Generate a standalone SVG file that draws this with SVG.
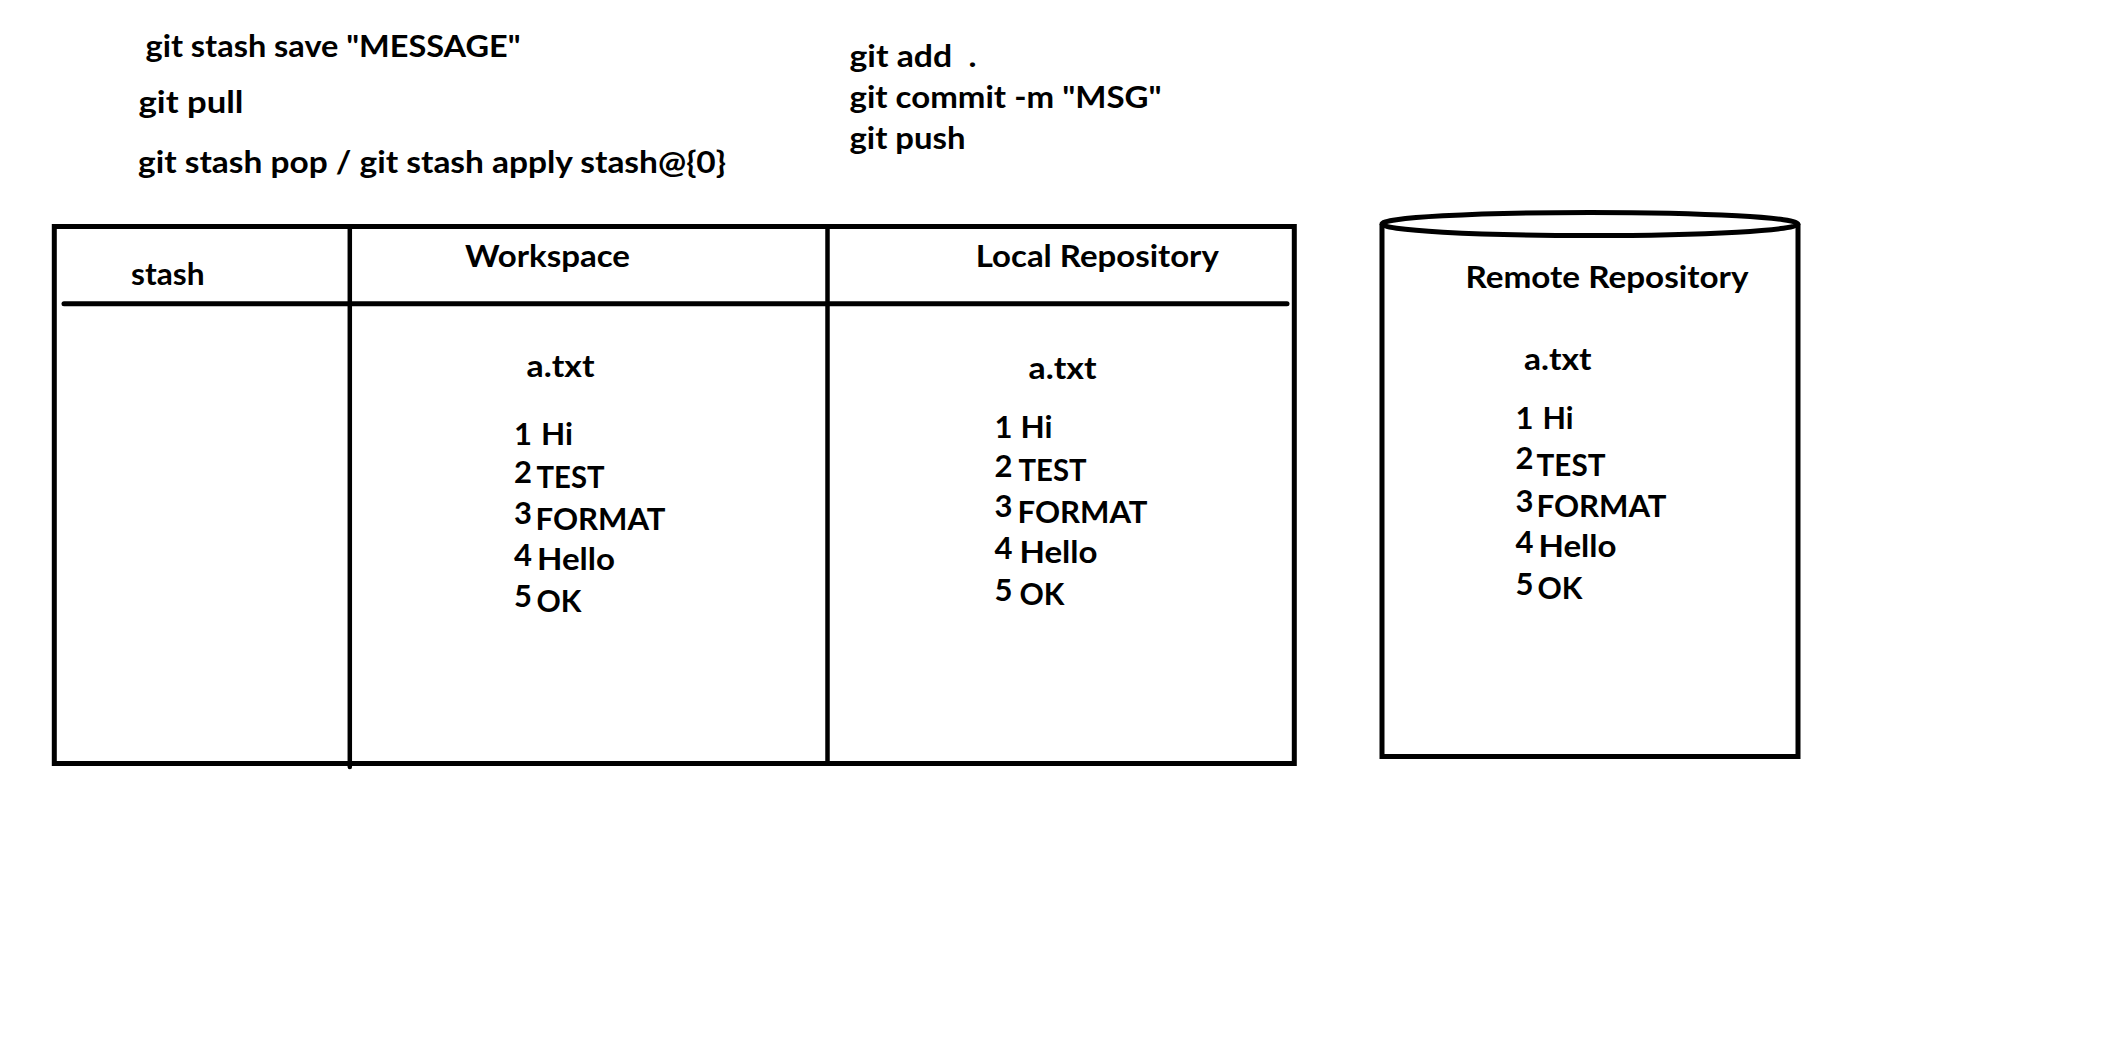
<svg xmlns="http://www.w3.org/2000/svg" width="2120" height="1044" viewBox="0 0 2120 1044">
  <style>
    text { font-family: Lato, "Open Sans", "Liberation Sans", sans-serif; font-weight: 700; fill: #000; white-space: pre; }
    .cmd { font-size: 31px; }
    .hd { font-size: 31px; }
    .ln { font-size: 30px; }
    .num { font-size: 31px; }
    .frame { fill: none; stroke: #000; stroke-width: 5; }
    .rule { fill: none; stroke: #000; stroke-width: 5; stroke-linecap: round; }
    .col { fill: none; stroke: #000; stroke-width: 4.5; stroke-linecap: round; }
  </style>
  <rect width="2120" height="1044" fill="#fff"/>

  <!-- command notes -->
  <g id="stash-commands">
    <text class="cmd" x="145.5" y="57" textLength="375" lengthAdjust="spacingAndGlyphs">git stash save "MESSAGE"</text>
    <text class="cmd" x="138.5" y="113" textLength="105" lengthAdjust="spacingAndGlyphs">git pull</text>
    <text class="cmd" x="138" y="173" textLength="588" lengthAdjust="spacingAndGlyphs">git stash pop / git stash apply stash@{0}</text>
  </g>
  <g id="commit-commands">
    <text class="cmd" x="849.5" y="67" textLength="127" lengthAdjust="spacingAndGlyphs">git add  .</text>
    <text class="cmd" x="849.5" y="108" textLength="312" lengthAdjust="spacingAndGlyphs">git commit -m "MSG"</text>
    <text class="cmd" x="849.5" y="148.5" textLength="116" lengthAdjust="spacingAndGlyphs">git push</text>
  </g>

  <!-- local table: stash | workspace | local repository -->
  <g id="local-table">
    <rect class="frame" x="54.3" y="226.5" width="1240" height="537"/>
    <line class="rule" x1="64" y1="303.7" x2="1287" y2="303.7"/>
    <line class="col" x1="349.8" y1="226.5" x2="349.8" y2="767"/>
    <line class="col" x1="827.5" y1="226.5" x2="827.5" y2="763.5"/>
  </g>

  <g id="stash">
    <text class="hd" x="131" y="285" textLength="73.5" lengthAdjust="spacingAndGlyphs">stash</text>
  </g>

  <g id="workspace">
    <text class="hd" x="465" y="266.7" textLength="165" lengthAdjust="spacingAndGlyphs">Workspace</text>
    <text class="ln" x="526.5" y="376.7" textLength="68" lengthAdjust="spacingAndGlyphs">a.txt</text>
    <text class="num" x="514" y="445">1</text>
    <text class="ln" x="541" y="445" textLength="32" lengthAdjust="spacingAndGlyphs">Hi</text>
    <text class="num" x="514" y="483">2</text>
    <text class="ln" x="536.5" y="487.7" textLength="68" lengthAdjust="spacingAndGlyphs">TEST</text>
    <text class="num" x="514" y="524">3</text>
    <text class="ln" x="535.5" y="530" textLength="130" lengthAdjust="spacingAndGlyphs">FORMAT</text>
    <text class="num" x="514" y="566">4</text>
    <text class="ln" x="537" y="570" textLength="78" lengthAdjust="spacingAndGlyphs">Hello</text>
    <text class="num" x="514" y="607">5</text>
    <text class="ln" x="536.5" y="611.7" textLength="45" lengthAdjust="spacingAndGlyphs">OK</text>
  </g>

  <g id="local-repository">
    <text class="hd" x="975.8" y="267.3" textLength="243" lengthAdjust="spacingAndGlyphs">Local Repository</text>
    <text class="ln" x="1028.5" y="379" textLength="68" lengthAdjust="spacingAndGlyphs">a.txt</text>
    <text class="num" x="994.5" y="438">1</text>
    <text class="ln" x="1020.5" y="438" textLength="32" lengthAdjust="spacingAndGlyphs">Hi</text>
    <text class="num" x="994.5" y="476.7">2</text>
    <text class="ln" x="1018.5" y="480.7" textLength="68" lengthAdjust="spacingAndGlyphs">TEST</text>
    <text class="num" x="994.5" y="516.7">3</text>
    <text class="ln" x="1017.5" y="523.3" textLength="130" lengthAdjust="spacingAndGlyphs">FORMAT</text>
    <text class="num" x="994.5" y="559.3">4</text>
    <text class="ln" x="1019.5" y="563.3" textLength="78" lengthAdjust="spacingAndGlyphs">Hello</text>
    <text class="num" x="994.5" y="600.7">5</text>
    <text class="ln" x="1019.5" y="605" textLength="45" lengthAdjust="spacingAndGlyphs">OK</text>
  </g>

  <!-- remote repository drawn as a cylinder -->
  <g id="remote-repository">
    <path class="frame" d="M1382,224 L1382,756.5 L1798,756.5 L1798,224"/>
    <ellipse class="frame" cx="1590" cy="224" rx="208" ry="11.5"/>
    <text class="hd" x="1465.5" y="288.3" textLength="283" lengthAdjust="spacingAndGlyphs">Remote Repository</text>
    <text class="ln" x="1524" y="370" textLength="67.5" lengthAdjust="spacingAndGlyphs">a.txt</text>
    <text class="num" x="1515.5" y="429.3">1</text>
    <text class="ln" x="1542.5" y="429.3" textLength="31" lengthAdjust="spacingAndGlyphs">Hi</text>
    <text class="num" x="1515.5" y="469.3">2</text>
    <text class="ln" x="1536.5" y="476" textLength="69" lengthAdjust="spacingAndGlyphs">TEST</text>
    <text class="num" x="1515.5" y="511.7">3</text>
    <text class="ln" x="1536.5" y="517.3" textLength="130" lengthAdjust="spacingAndGlyphs">FORMAT</text>
    <text class="num" x="1515.5" y="553.3">4</text>
    <text class="ln" x="1538.5" y="557.3" textLength="78" lengthAdjust="spacingAndGlyphs">Hello</text>
    <text class="num" x="1515.5" y="595">5</text>
    <text class="ln" x="1537.5" y="599.3" textLength="45" lengthAdjust="spacingAndGlyphs">OK</text>
  </g>
</svg>
